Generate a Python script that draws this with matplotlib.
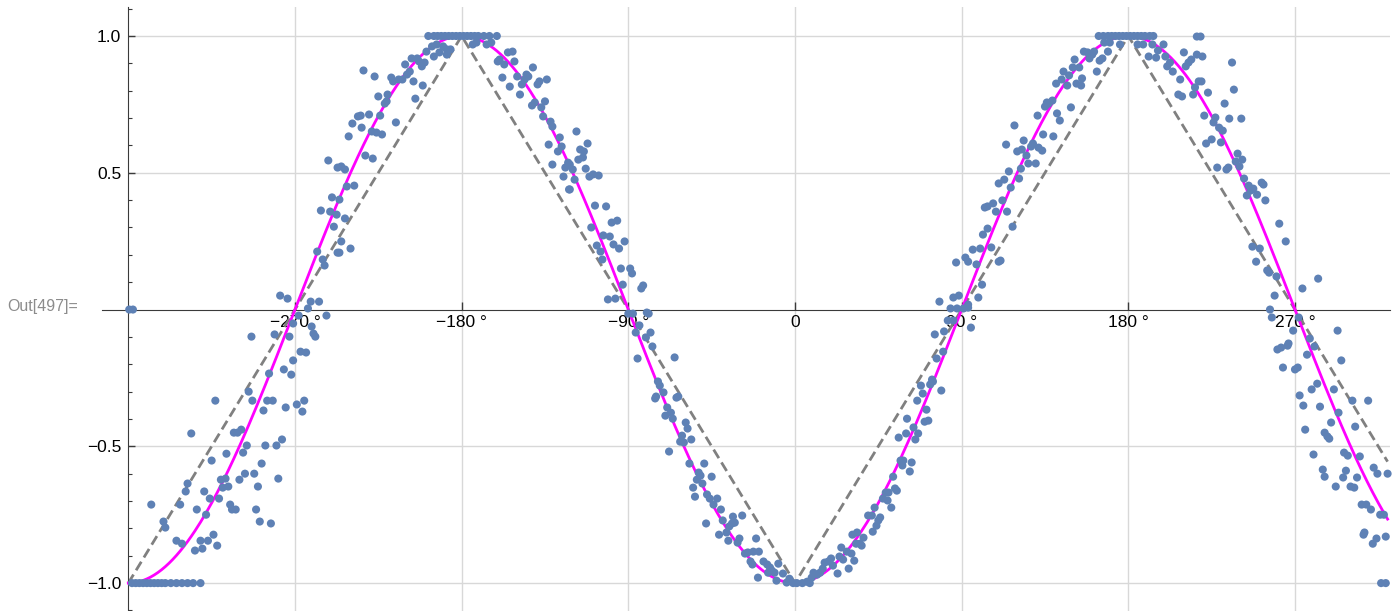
import numpy as np
import matplotlib
matplotlib.use('Agg')
import matplotlib.pyplot as plt
from matplotlib.ticker import FixedLocator, MultipleLocator, FixedFormatter

plt.rcParams['font.family'] = ['Liberation Sans', 'DejaVu Sans']

# --- data (angle in degrees, value) ---
edge_left = [(-359.5, 0.0), (-357.5, 0.0)]
floor_left = [(-358, -1), (-356, -1), (-354, -1), (-352, -1), (-350, -1), (-348, -1),
              (-346, -1), (-344, -1), (-342, -1), (-340, -1), (-337, -1), (-334, -1),
              (-331, -1), (-328, -1), (-325, -1), (-321, -1)]
rise_left = [(-347.6, -0.713), (-341, -0.775), (-340, -0.797), (-334, -0.845), (-331, -0.856),
             (-332, -0.713), (-329, -0.665), (-328, -0.636), (-326, -0.453), (-324, -0.881),
             (-323, -0.731), (-321, -0.845), (-320, -0.874), (-319, -0.665), (-318, -0.750),
             (-317, -0.845), (-316, -0.691), (-315, -0.552), (-314, -0.823), (-313, -0.333),
             (-312, -0.863), (-311, -0.691), (-310, -0.622), (-309, -0.651), (-307.5, -0.618),
             (-307, -0.527), (-306, -0.647), (-305, -0.713), (-304, -0.731), (-303, -0.450),
             (-302, -0.731), (-301, -0.450), (-300, -0.622), (-299, -0.439), (-298, -0.523),
             (-297, -0.600), (-296, -0.497), (-295, -0.300), (-293.5, -0.099), (-293, -0.333),
             (-292, -0.600), (-291, -0.731), (-290, -0.647), (-289, -0.775), (-288, -0.563),
             (-287, -0.369), (-286, -0.497), (-285, -0.333), (-284, -0.234), (-283, -0.782),
             (-282, -0.333), (-281, -0.091), (-280, -0.497), (-279, -0.618), (-277, -0.475),
             (-276, -0.219), (-275, -0.358), (-273, -0.099), (-272, -0.238), (-271, -0.186),
             (-269, -0.347), (-268, -0.022), (-267, -0.154), (-265, -0.333), (-266, -0.373),
             (-264, -0.157), (-263, 0.004), (-261, -0.062), (-260, -0.088), (-259, -0.099),
             (-253, -0.022), (-271, -0.051)]
rise_upper = [(-252, 0.545), (-247, 0.519), (-250, 0.41), (-256, 0.362), (-251, 0.358),
              (-247.5, 0.347), (-249, 0.303), (-258, 0.212), (-255, 0.183), (-254, 0.161),
              (-247, 0.208), (-278, 0.051), (-274, 0.040), (-261.5, 0.029), (-257, 0.029)]
peak_left = [(-246, 0.402), (-245, 0.523), (-243, 0.512), (-242, 0.450), (-238, 0.453),
             (-243, 0.333), (-245, 0.249), (-246, 0.208), (-240, 0.223), (-241, 0.633),
             (-239, 0.680), (-236, 0.706), (-234.5, 0.709), (-234, 0.665), (-233, 0.874),
             (-232, 0.563), (-230, 0.713), (-228.5, 0.651), (-228, 0.552), (-227, 0.852),
             (-226, 0.647), (-225, 0.779), (-224, 0.709), (-223, 0.640), (-221.5, 0.753),
             (-220.5, 0.761), (-220, 0.786), (-218, 0.848), (-217, 0.834), (-215.5, 0.684),
             (-214, 0.841), (-212, 0.841), (-210.5, 0.896), (-209.5, 0.859), (-208, 0.870),
             (-207, 0.918), (-206, 0.834), (-205, 0.771), (-204, 0.918), (-203, 0.907),
             (-201.5, 0.889), (-201, 0.819), (-200, 0.903), (-199, 0.943), (-196, 0.962),
             (-195, 0.925), (-193.5, 0.969), (-192, 0.940), (-190, 0.962), (-188, 0.951),
             (-188, 0.932), (-186, 0.951)]
top_left = [(-198, 1), (-195, 1), (-193, 1), (-191, 1), (-189, 1), (-187, 1), (-185, 1),
            (-183, 1), (-181, 1), (-179, 1), (-177, 1), (-175, 1), (-173, 1), (-171, 1),
            (-168, 1), (-165, 1), (-161, 1)]
fall_left = [(-174, 0.969), (-172, 0.976), (-166.5, 0.969), (-164, 0.976), (-160.5, 0.907),
             (-159.5, 0.914), (-158, 0.848), (-157, 0.896), (-155, 0.940), (-154, 0.815),
             (-152.5, 0.943), (-151.5, 0.907), (-150, 0.852), (-148.5, 0.786), (-147.5, 0.823),
             (-146, 0.841), (-145, 0.859), (-144, 0.852), (-142, 0.746), (-141.5, 0.885),
             (-140.5, 0.757), (-139, 0.823), (-138, 0.834), (-137, 0.739), (-136, 0.706),
             (-135, 0.761), (-134, 0.841), (-132, 0.687), (-131, 0.669), (-133, 0.603),
             (-131, 0.530), (-128, 0.578), (-127, 0.629), (-126, 0.596), (-125, 0.486),
             (-124, 0.519), (-122.5, 0.537), (-122, 0.439)]
fall_mid = [(-121.6, 0.530), (-120, 0.512), (-121.6, 0.439), (-119, 0.475), (-118, 0.651),
            (-116, 0.585), (-114, 0.578), (-117, 0.548), (-114.5, 0.556), (-112, 0.607),
            (-113, 0.515), (-111, 0.486), (-109, 0.494), (-106, 0.490), (-108, 0.380),
            (-102, 0.377), (-110, 0.300), (-103.5, 0.271), (-100, 0.267), (-99, 0.318),
            (-96, 0.325), (-98, 0.238), (-95, 0.223), (-92, 0.249), (-107, 0.234),
            (-105, 0.212), (-104, 0.183), (-94, 0.150), (-89, 0.150), (-88, 0.132),
            (-93, 0.091), (-83, 0.077), (-82, 0.088), (-101, 0.037), (-97, 0.040)]
fall_low = [(-90, -0.015), (-87.5, -0.015), (-80, -0.011), (-79, -0.015), (-84, -0.058),
            (-86, -0.084), (-78, -0.084), (-80.5, -0.102), (-77, -0.135), (-85, -0.179),
            (-65, -0.175), (-74, -0.263), (-73, -0.278), (-71, -0.303), (-75, -0.318),
            (-75.5, -0.325), (-64, -0.322), (-63, -0.318), (-69, -0.358), (-67, -0.377),
            (-70, -0.388), (-66, -0.399), (-59, -0.413), (-58, -0.435), (-61, -0.461),
            (-62, -0.483), (-60, -0.486), (-56, -0.475), (-68, -0.519), (-57, -0.563),
            (-49, -0.563), (-52, -0.596), (-51, -0.607), (-53, -0.622), (-45, -0.611),
            (-50, -0.636), (-55, -0.651), (-54, -0.684), (-47.5, -0.676), (-46, -0.691),
            (-42, -0.691), (-44, -0.713), (-40, -0.731), (-48, -0.782), (-39, -0.771),
            (-37, -0.815), (-33.5, -0.757), (-28.5, -0.753), (-35.5, -0.793), (-34, -0.782),
            (-32.5, -0.779), (-41, -0.823), (-36, -0.845), (-30, -0.837), (-31, -0.852),
            (-27, -0.892), (-25.5, -0.888), (-22.5, -0.885), (-19.5, -0.885), (-21, -0.837),
            (-24, -0.921), (-23, -0.932), (-17, -0.921), (-15, -0.932), (-13.5, -0.943),
            (-12.5, -0.954), (-14.5, -0.962), (-20, -0.980), (-11, -0.962), (-9, -0.929),
            (-10, -0.991), (-6.5, -0.965), (-4.5, -0.998), (-3, -0.984), (-1, -1.0), (1, -1.0)]
rise_low = [(4, -1.0), (6.5, -0.995), (8, -1.0), (10, -0.962), (9, -0.980), (12, -0.969),
            (13.5, -0.962), (15, -0.947), (16, -0.925), (18, -0.921), (19.5, -0.910),
            (20.5, -0.936), (23, -0.965), (24, -0.903), (26, -0.914), (25, -0.870),
            (28, -0.885), (29, -0.947), (30.5, -0.892), (32, -0.918), (31, -0.823),
            (33.5, -0.815), (33, -0.856), (35, -0.856), (37, -0.834), (36, -0.863),
            (39.5, -0.753), (41.5, -0.753), (43, -0.724), (42, -0.812), (44, -0.790),
            (45, -0.771), (46, -0.760), (47.5, -0.691), (49, -0.669), (50.5, -0.669),
            (50, -0.698), (52, -0.724), (54, -0.654), (55, -0.662), (53, -0.611),
            (57, -0.552), (58.5, -0.552), (58, -0.570), (63, -0.559), (62, -0.592),
            (56, -0.468), (60, -0.453), (65, -0.475), (64, -0.431), (66.5, -0.453),
            (60.5, -0.399), (70, -0.410), (72, -0.406), (71, -0.366), (66, -0.333),
            (69, -0.307), (68, -0.278), (73, -0.274), (74, -0.256), (74.5, -0.263),
            (79, -0.296), (80, -0.154), (76.5, -0.179), (75.5, -0.091), (80.5, -0.080),
            (82.5, -0.040), (84, 0.004), (87.5, 0.004), (91, 0.004), (93.5, 0.007),
            (95, -0.066), (85.5, -0.040)]
rise_mid = [(78, 0.029), (85.5, 0.044), (88.5, 0.051), (93.5, 0.018), (99, 0.044),
            (101, 0.091), (87, 0.172), (92, 0.190), (93.5, 0.175), (96, 0.219),
            (98, 0.165), (100, 0.223), (106, 0.227), (101.5, 0.274), (104, 0.296),
            (102.5, 0.373), (104, 0.377), (107, 0.388), (108.5, 0.358), (110, 0.461),
            (110, 0.175)]
peak_right = [(111, 0.179), (112, 0.399), (114.5, 0.358), (117.5, 0.303), (116.5, 0.446),
              (113, 0.475), (115.5, 0.505), (121, 0.479), (122, 0.515), (114, 0.603),
              (118.5, 0.673), (120, 0.578), (122.5, 0.585), (123.5, 0.618), (125, 0.563),
              (126, 0.534), (127.5, 0.596), (128.5, 0.607), (130, 0.534), (131.5, 0.592),
              (133.5, 0.581), (134, 0.640), (131, 0.709), (135, 0.742), (137, 0.753),
              (139, 0.764), (136, 0.757), (139.5, 0.633), (141.5, 0.717), (143, 0.691),
              (141, 0.826), (144, 0.841), (145, 0.870), (147, 0.819), (148, 0.856),
              (149, 0.739), (150, 0.885), (151, 0.914), (152, 0.826), (153.5, 0.885),
              (154.5, 0.819), (155, 0.845), (156, 0.943), (158, 0.940), (159, 0.918),
              (160.5, 0.932), (161.5, 0.943), (163, 0.870), (164.5, 0.910), (166, 0.918),
              (167, 0.976), (169, 0.943), (170, 0.976)]
top_right = [(164, 1), (166.5, 1), (169, 1), (171, 1), (173, 1), (175, 1), (177, 1),
             (179, 1), (181, 1), (183, 1), (185, 1), (187, 1), (189, 1), (191.5, 1),
             (193.5, 1), (217, 0.998), (219, 0.998)]
fall_right = [(175.5, 0.969), (185, 0.969), (188, 0.969), (191, 0.925), (193, 0.969),
              (195, 0.921), (196, 0.947), (199, 0.969), (200, 0.925), (201, 0.889),
              (202.5, 0.903), (204, 0.870), (208, 0.841), (207, 0.786), (209, 0.779),
              (210, 0.940), (211, 0.889), (212.5, 0.903), (214, 0.914), (215, 0.786),
              (216, 0.812), (217, 0.932), (218, 0.834), (220, 0.925), (236, 0.903),
              (219.5, 0.834), (237, 0.804), (223, 0.793), (232, 0.753), (221, 0.709),
              (227, 0.702), (234.5, 0.698), (241, 0.698), (226, 0.684), (229, 0.665),
              (231, 0.654), (222, 0.607), (225, 0.622), (230, 0.611), (239, 0.570),
              (241.5, 0.548), (238, 0.541), (240, 0.523), (228, 0.519), (233, 0.512),
              (234, 0.519), (242.5, 0.479), (245, 0.453), (246, 0.435), (247.5, 0.442),
              (244, 0.417), (249.5, 0.420), (252, 0.464), (253, 0.457), (254, 0.399),
              (261.5, 0.314), (265, 0.249), (247, 0.230), (251, 0.223), (249, 0.175),
              (255, 0.143), (256, 0.135), (260, 0.121), (259, 0.051), (274, 0.077),
              (282.5, 0.113)]
tail_right = [(256.5, 0.0), (257.5, -0.029), (272, -0.029), (269, -0.077), (293, -0.077),
              (278, -0.106), (266.5, -0.124), (260.5, -0.146), (262.5, -0.139), (266, -0.132),
              (280.5, -0.135), (276.5, -0.165), (295, -0.186), (263.5, -0.212), (270, -0.219),
              (271.5, -0.212), (282, -0.271), (279, -0.292), (291, -0.292), (272.5, -0.314),
              (274.5, -0.351), (283.5, -0.355), (301, -0.333), (309.5, -0.333), (293.5, -0.377),
              (289.5, -0.413), (302.5, -0.428), (275.5, -0.439), (286, -0.450), (287.5, -0.464),
              (288.5, -0.472), (296.5, -0.523), (298.5, -0.534), (305, -0.537), (280, -0.530),
              (285, -0.585), (286, -0.611), (297.5, -0.589), (296, -0.614), (303.5, -0.614),
              (292, -0.647), (300, -0.647), (302, -0.651), (312.5, -0.578), (314.5, -0.600),
              (320, -0.600), (306, -0.713), (308.5, -0.713), (311, -0.731), (316, -0.750),
              (318, -0.750), (307, -0.823), (307.5, -0.815), (312, -0.856), (314, -0.837),
              (319, -0.830), (316.5, -1.0), (319, -1.0)]

# triangle reference (dashed) vertices
tri_x = [-360, -180, 0, 180, 320]
tri_y = [-1, 1, -1, 1, -0.556]

xticks = [-270, -180, -90, 0, 90, 180, 270]
xticklabels = ['\u2212270 \u00b0', '\u2212180 \u00b0', '\u221290 \u00b0', '0',
               '90 \u00b0', '180 \u00b0', '270 \u00b0']
yticks = [-1.0, -0.5, 0.5, 1.0]
yticklabels = ['\u22121.0', '\u22120.5', '0.5', '1.0']

pts = np.array(edge_left + floor_left + rise_left + rise_upper + peak_left + top_left
               + fall_left + fall_mid + fall_low + rise_low + rise_mid + peak_right
               + top_right + fall_right + tail_right)

# model curve -cos(x)
model_x = np.linspace(-360, 320, 681)
model_y = -np.cos(np.radians(model_x))

fig = plt.figure(figsize=(13.95, 6.11), dpi=100)
ax = fig.add_axes([102 / 1395, 0, 1288 / 1395, 604 / 611])
xmin, xmax = -374.2, 321.3
ax.set_xlim(xmin, xmax)
ax.set_ylim(-1.102, 1.106)

gridc = '#d8d8d8'
for xv in xticks:
    ax.axvline(xv, color=gridc, lw=1, zorder=0)
ax.hlines(yticks, -360, xmax, color=gridc, lw=1, zorder=0)

ax.plot(tri_x, tri_y, color='#808080', lw=2, linestyle=(0, (3.6, 1.8)), zorder=2)
ax.plot(model_x, model_y, color='#ff00ff', lw=2, zorder=3)
ax.scatter(pts[:, 0], pts[:, 1], s=34, color='#5e81b5', edgecolors='none', zorder=4,
           clip_on=False)

axc = '#3a3a3a'
for side in ['top', 'right']:
    ax.spines[side].set_visible(False)
ax.spines['left'].set_position(('data', -360))
ax.spines['bottom'].set_position(('data', 0))
ax.spines['left'].set_color(axc)
ax.spines['bottom'].set_color(axc)

ax.xaxis.set_major_locator(FixedLocator(xticks))
ax.xaxis.set_major_formatter(FixedFormatter(xticklabels))
ax.yaxis.set_major_locator(FixedLocator(yticks))
ax.yaxis.set_major_formatter(FixedFormatter(yticklabels))
ax.yaxis.set_minor_locator(MultipleLocator(0.1))

ax.tick_params(axis='x', which='major', direction='in', length=5.5, width=1,
               color=axc, labelsize=12.5, pad=4)
ax.tick_params(axis='y', which='major', direction='in', length=5, width=1,
               color=axc, labelsize=12.5, pad=5)
ax.tick_params(axis='y', which='minor', direction='in', length=3, width=0.8, color=axc)
ax.patch.set_alpha(0)

fig.text(7 / 1395, 1 - 306 / 611, 'Out[497]=', ha='left', va='center',
         color='#8c8c8c', fontsize=11.5)

fig.savefig('out.png', dpi=100)
